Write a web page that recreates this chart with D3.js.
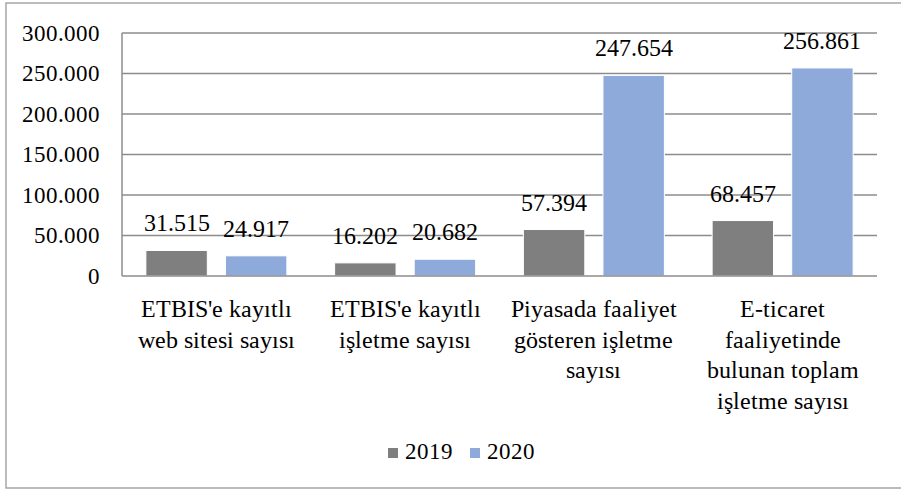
<!DOCTYPE html>
<html>
<head>
<meta charset="utf-8">
<script src="https://cdn.jsdelivr.net/npm/d3@7"></script>
<style>
  @font-face { font-family: "ChartSerif"; src: local("Liberation Serif"), local("LiberationSerif"), local("Times New Roman"); }
  body { margin:0; background:#fff; }
  #chart text { font-family: "ChartSerif", "Liberation Serif", "Times New Roman", serif; }
</style>
</head>
<body>
<svg id="chart" width="901" height="489"></svg>
<script>
var categories = [
  ["ETBIS'e kayıtlı", "web sitesi sayısı"],
  ["ETBIS'e kayıtlı", "işletme sayısı"],
  ["Piyasada faaliyet", "gösteren işletme", "sayısı"],
  ["E-ticaret", "faaliyetinde", "bulunan toplam", "işletme sayısı"]
];
var years = ["2019", "2020"];
var values2019 = [31515, 16202, 57394, 68457];
var values2020 = [24917, 20682, 247654, 256861];
var yTicks = [0, 50000, 100000, 150000, 200000, 250000, 300000];
var colors = ["#7f7f7f", "#8eaadb"];

var W = 901, H = 489,
    m = {t:33, r:24, b:213, l:122},
    w = W - m.l - m.r,
    h = H - m.t - m.b;

var svg = d3.select("#chart");

// outer frame
svg.append("rect")
  .attr("x", 6).attr("y", 3)
  .attr("width", W + 10).attr("height", 485)
  .attr("fill", "#fff")
  .attr("stroke", "#a6a6a6")
  .attr("stroke-width", 1.5);

var g = svg.append("g")
  .attr("transform", "translate(" + m.l + "," + m.t + ")");

var fmt = function(v){ return v == 0 ? "0" : d3.format(",")(v).replace(/,/g, "."); };

var scaleY = d3.scaleLinear().domain([0, 300000]).range([h, 0]);
var scaleX = d3.scaleBand().domain(d3.range(categories.length)).range([0, w]);
var scaleX1 = d3.scaleBand().domain(years).range([0, scaleX.bandwidth()])
  .paddingInner(0.228).paddingOuter(0.3);

// gridlines
g.selectAll(".grid")
  .data(yTicks.filter(function(d){ return d > 0; }))
  .enter().append("line")
  .attr("class", "grid")
  .attr("x1", 0).attr("x2", w)
  .attr("y1", function(d){ return scaleY(d); })
  .attr("y2", function(d){ return scaleY(d); })
  .attr("stroke", "#8c8c8c")
  .attr("stroke-width", 1.5);

// y axis
var axisY = d3.axisLeft(scaleY).tickValues(yTicks).tickSize(0).tickPadding(22).tickFormat(fmt);
var yAx = g.append("g").call(axisY);
yAx.attr("font-family", null).attr("font-size", 23);
yAx.select(".domain").remove();
yAx.selectAll("text").attr("fill", "#000");

g.append("line")
  .attr("x1", 0).attr("x2", 0)
  .attr("y1", 0).attr("y2", h)
  .attr("stroke", "#8c8c8c").attr("stroke-width", 1.5);

// bars
var rows = categories.map(function(c, i){
  return { i: i, vals: [values2019[i], values2020[i]] };
});

var grp = g.selectAll(".cat")
  .data(rows)
  .enter().append("g")
  .attr("class", "cat")
  .attr("transform", function(d){ return "translate(" + scaleX(d.i) + ",0)"; });

grp.selectAll("rect")
  .data(function(d){ return d.vals.map(function(v, k){ return {year: years[k], v: v, k: k}; }); })
  .enter().append("rect")
  .attr("x", function(d){ return scaleX1(d.year); })
  .attr("y", function(d){ return scaleY(d.v); })
  .attr("width", scaleX1.bandwidth())
  .attr("height", function(d){ return h - scaleY(d.v); })
  .attr("fill", function(d){ return colors[d.k]; })
  .attr("stroke", "#fff")
  .attr("stroke-width", 1);

grp.selectAll(".lbl")
  .data(function(d){ return d.vals.map(function(v, k){ return {year: years[k], v: v, k: k}; }); })
  .enter().append("text")
  .attr("class", "lbl")
  .attr("x", function(d){ return scaleX1(d.year) + scaleX1.bandwidth() / 2; })
  .attr("y", function(d){ return scaleY(d.v) - 19; })
  .attr("text-anchor", "middle")
  .attr("font-size", 24)
  .text(function(d){ return fmt(d.v); });

// x axis line
g.append("line")
  .attr("x1", 0).attr("x2", w)
  .attr("y1", h).attr("y2", h)
  .attr("stroke", "#8c8c8c").attr("stroke-width", 1.5);

// category labels
var catLbl = g.selectAll(".catlbl")
  .data(categories)
  .enter().append("text")
  .attr("class", "catlbl")
  .attr("text-anchor", "middle")
  .attr("font-size", 24)
  .attr("transform", function(d, i){ return "translate(" + (scaleX(i) + scaleX.bandwidth() / 2) + "," + (h + 41) + ")"; });

catLbl.selectAll("tspan")
  .data(function(d){ return d; })
  .enter().append("tspan")
  .attr("x", 0)
  .attr("dy", function(d, i){ return i == 0 ? 0 : 30.5; })
  .text(function(d){ return d; });

// legend
var legend = svg.append("g")
  .attr("transform", "translate(388,448)");

var li = legend.selectAll(".leg")
  .data(years)
  .enter().append("g")
  .attr("class", "leg")
  .attr("transform", function(d, i){ return "translate(" + (i * 82) + ",0)"; });

li.append("rect")
  .attr("width", 10).attr("height", 10)
  .attr("fill", function(d, i){ return colors[i]; });

li.append("text")
  .attr("x", 17).attr("y", 11)
  .attr("font-size", 23)
  .text(function(d){ return d; });
</script>
</body>
</html>
